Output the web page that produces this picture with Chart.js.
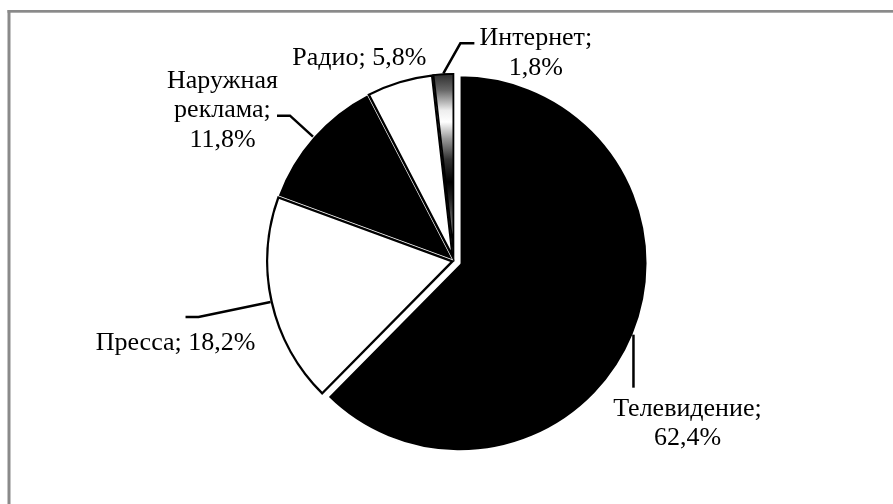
<!DOCTYPE html>
<html>
<head>
<meta charset="utf-8">
<script src="https://cdn.jsdelivr.net/npm/chart.js@4"></script>
<style>
  html, body { margin: 0; padding: 0; background: #fff; }
  #wrap { position: relative; width: 893px; height: 504px; }
</style>
</head>
<body>
<div id="wrap"><canvas id="myChart" width="893" height="504"></canvas></div>
<script>
// data
var categories = ['Телевидение', 'Пресса', 'Наружная реклама', 'Радио', 'Интернет'];
var shares = [62.4, 18.2, 11.8, 5.8, 1.8];

// styles (not data)
var fills = ['#000000', '#ffffff', '#000000', '#ffffff', 'gradient'];
var explode = [6, 0, 0, 0, 0];
var pieRadius = 188;
// leader line points and text position relative to the slice's outer mid point
var labelLayout = [
  { wrap: true,  leader: [[0, 0], [0, 53]], tx: 54, ty: 81 },
  { wrap: false, leader: [[0, 0], [-72, 15], [-85, 15]], tx: -95, ty: 48 },
  { wrap: true,  leader: [[0, 0], [-23, -21], [-36, -21]], tx: -90.5, ty: -49 },
  { wrap: false, leader: null, tx: -40, ty: -16 },
  { wrap: true,  leader: [[0, 0], [17, -30], [31, -30]], tx: 92.5, ty: -28 }
];
var lineHeight = 29.5;

function fmt(v) {
  return v.toFixed(1).replace('.', ',') + '%';
}

function sliceFill(ctx) {
  var f = fills[ctx.dataIndex];
  if (f !== 'gradient') return f;
  var area = ctx.chart.chartArea;
  if (!area) return '#888';
  var cy = (area.top + area.bottom) / 2;
  var g = ctx.chart.ctx.createLinearGradient(0, cy - pieRadius, 0, cy);
  g.addColorStop(0, '#2a2a2a');
  g.addColorStop(0.09, '#666');
  g.addColorStop(0.2, '#eee');
  g.addColorStop(0.26, '#fff');
  g.addColorStop(0.35, '#999');
  g.addColorStop(0.46, '#333');
  g.addColorStop(0.58, '#000');
  g.addColorStop(0.67, '#222');
  g.addColorStop(0.85, '#888');
  g.addColorStop(1, '#555');
  return g;
}

var framePlugin = {
  id: 'frame',
  beforeDraw: function(chart) {
    var c = chart.ctx;
    c.save();
    c.fillStyle = '#fff';
    c.fillRect(0, 0, chart.width, chart.height);
    c.fillStyle = '#8a8a8a';
    c.fillRect(7.5, 10, 3, chart.height);
    c.fillRect(7.5, 10, chart.width, 2.7);
    c.restore();
  }
};

// draw slices ourselves so the exploded one is only moved, not enlarged
var explodePlugin = {
  id: 'explode',
  beforeDatasetDraw: function(chart, args) {
    var meta = args.meta;
    var c = chart.ctx;
    var order = [0, 2, 1, 3, 4];
    order.forEach(function(i) {
      var arc = meta.data[i];
      var mid = (arc.startAngle + arc.endAngle) / 2;
      c.save();
      c.translate(Math.cos(mid) * explode[i], Math.sin(mid) * explode[i]);
      arc.draw(c);
      c.restore();
    });
    return false;
  }
};

var labelPlugin = {
  id: 'sliceLabels',
  afterDatasetsDraw: function(chart) {
    var meta = chart.getDatasetMeta(0);
    var c = chart.ctx;
    c.save();
    c.font = '26px "Liberation Serif", "Times New Roman", serif';
    c.fillStyle = '#000';
    c.strokeStyle = '#000';
    c.lineWidth = 2.5;
    c.textAlign = 'center';
    c.textBaseline = 'alphabetic';
    meta.data.forEach(function(arc, i) {
      var mid = (arc.startAngle + arc.endAngle) / 2;
      var ax = arc.x + Math.cos(mid) * (arc.outerRadius + explode[i]);
      var ay = arc.y + Math.sin(mid) * (arc.outerRadius + explode[i]);
      var lay = labelLayout[i];
      if (lay.leader) {
        c.beginPath();
        lay.leader.forEach(function(p, k) {
          if (k === 0) c.moveTo(ax + p[0], ay + p[1]);
          else c.lineTo(ax + p[0], ay + p[1]);
        });
        c.stroke();
      }
      var text = categories[i] + '; ' + fmt(shares[i]);
      var lines = lay.wrap ? text.split(' ') : [text];
      lines.forEach(function(t, k) {
        c.fillText(t, ax + lay.tx, ay + lay.ty + k * lineHeight);
      });
    });
    c.restore();
  }
};

var chartdata = {
  labels: categories,
  datasets: [{
    data: shares,
    backgroundColor: sliceFill,
    borderColor: ['#ffffff', '#000000', '#ffffff', '#000000', '#000000'],
    borderWidth: [2, 2, 2, 2, 1.5],
    borderAlign: ['center', 'inner', 'center', 'inner', 'inner']
  }]
};

var options = {
  responsive: false,
  animation: false,
  events: [],
  radius: pieRadius,
  layout: { padding: { left: 15, right: 0, top: 18, bottom: 0 } },
  plugins: {
    legend: { display: false },
    tooltip: { enabled: false },
    title: { display: false }
  }
};

var graph = new Chart(document.getElementById('myChart'), {
  type: 'pie',
  data: chartdata,
  options: options,
  plugins: [framePlugin, explodePlugin, labelPlugin]
});
</script>
</body>
</html>
